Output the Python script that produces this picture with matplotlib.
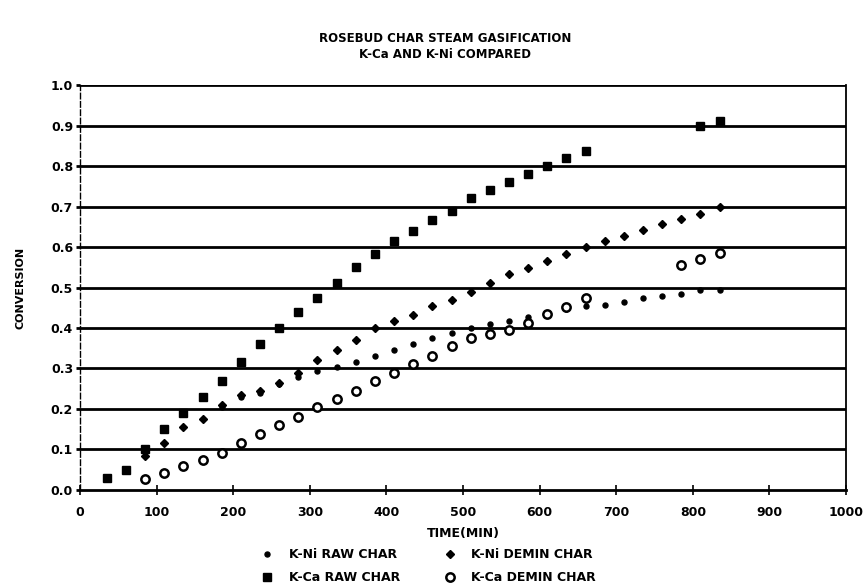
import matplotlib
matplotlib.use("Agg")
import matplotlib.pyplot as plt

plt.rcParams['font.family'] = ['DejaVu Sans']
plt.rcParams['font.weight'] = 'bold'

# K-Ni raw char (small dots)
t_kni_raw = [185, 210, 235, 260, 285, 310, 335, 360, 385, 410, 435, 460, 485,
             510, 535, 560, 585, 610, 635, 660, 685, 710, 735, 760, 785, 810, 835]
x_kni_raw = [0.205, 0.23, 0.24, 0.262, 0.28, 0.293, 0.303, 0.315, 0.33, 0.345,
             0.36, 0.376, 0.388, 0.40, 0.41, 0.418, 0.428, 0.435, 0.447, 0.455,
             0.458, 0.465, 0.473, 0.478, 0.485, 0.495, 0.495]

# K-Ni demineralized char (diamonds)
t_kni_demin = [85, 110, 135, 160, 185, 210, 235, 260, 285, 310, 335, 360, 385,
               410, 435, 460, 485, 510, 535, 560, 585, 610, 635, 660, 685, 710,
               735, 760, 785, 810, 835]
x_kni_demin = [0.085, 0.115, 0.155, 0.175, 0.21, 0.235, 0.245, 0.265, 0.29, 0.32,
               0.345, 0.37, 0.40, 0.418, 0.433, 0.455, 0.47, 0.49, 0.51, 0.533,
               0.548, 0.565, 0.583, 0.60, 0.614, 0.627, 0.642, 0.656, 0.67,
               0.682, 0.70]

# K-Ca raw char (squares)
t_kca_raw = [35, 60, 85, 110, 135, 160, 185, 210, 235, 260, 285, 310, 335, 360,
             385, 410, 435, 460, 485, 510, 535, 560, 585, 610, 635, 660, 810, 835]
x_kca_raw = [0.03, 0.05, 0.10, 0.15, 0.19, 0.23, 0.27, 0.315, 0.36, 0.40, 0.44,
             0.475, 0.512, 0.55, 0.583, 0.614, 0.64, 0.667, 0.69, 0.72, 0.74,
             0.76, 0.78, 0.80, 0.82, 0.837, 0.90, 0.912]

# K-Ca demineralized char (open circles)
t_kca_demin = [85, 110, 135, 160, 185, 210, 235, 260, 285, 310, 335, 360, 385,
               410, 435, 460, 485, 510, 535, 560, 585, 610, 635, 660, 785, 810, 835]
x_kca_demin = [0.026, 0.042, 0.06, 0.074, 0.092, 0.115, 0.138, 0.16, 0.18, 0.205,
               0.225, 0.245, 0.268, 0.29, 0.31, 0.33, 0.355, 0.375, 0.385, 0.395,
               0.413, 0.435, 0.453, 0.473, 0.555, 0.57, 0.585]

x_ticks = [0, 100, 200, 300, 400, 500, 600, 700, 800, 900, 1000]
y_ticks = [0.0, 0.1, 0.2, 0.3, 0.4, 0.5, 0.6, 0.7, 0.8, 0.9, 1.0]
y_labels = ['0.0', '0.1', '0.2', '0.3', '0.4', '0.5', '0.6', '0.7', '0.8', '0.9', '1.0']

fig = plt.figure(figsize=(8.68, 5.88), dpi=100)
ax = fig.add_axes([0.0922, 0.1667, 0.8825, 0.6887])

# heavy rule at every tenth
for y in y_ticks[1:]:
    ax.axhline(y, color='black', lw=2.0, zorder=1)

p1, = ax.plot(t_kni_raw, x_kni_raw, 'o', color='black', ms=3.6, ls='none',
              label='K-Ni RAW CHAR', zorder=3)
p3, = ax.plot(t_kni_demin, x_kni_demin, 'D', color='black', ms=4.2, ls='none',
              label='K-Ni DEMIN CHAR', zorder=3)
p2, = ax.plot(t_kca_raw, x_kca_raw, 's', color='black', ms=5.6, ls='none',
              label='K-Ca RAW CHAR', zorder=3)
p4, = ax.plot(t_kca_demin, x_kca_demin, 'o', mfc='white', mec='black', mew=1.8,
              ms=6.0, ls='none', label='K-Ca DEMIN CHAR', zorder=3)

ax.set_xlim(0, 1000)
ax.set_ylim(0, 1.0)
ax.set_xticks(x_ticks)
ax.set_yticks(y_ticks)
ax.set_yticklabels(y_labels)
ax.tick_params(axis='x', direction='inout', length=7, width=1.2, pad=8, labelsize=9)
ax.tick_params(axis='y', direction='out', length=3, width=2.0, pad=2, labelsize=9)

ax.spines['top'].set_visible(False)
ax.spines['left'].set_linestyle((0, (4, 2)))
ax.spines['left'].set_linewidth(1.0)
ax.spines['right'].set_linewidth(1.3)
ax.spines['bottom'].set_linewidth(2.0)

ax.set_xlabel('TIME(MIN)', fontsize=9, fontweight='bold', labelpad=6)
ax.set_ylabel('CONVERSION', fontsize=8, fontweight='bold', labelpad=18)

fig.text(0.513, 0.935, 'ROSEBUD CHAR STEAM GASIFICATION', ha='center', va='center',
         fontsize=8.5, fontweight='bold')
fig.text(0.513, 0.907, 'K-Ca AND K-Ni COMPARED', ha='center', va='center',
         fontsize=8.5, fontweight='bold')

fig.legend(handles=[p1, p2, p3, p4], ncol=2, loc='upper left',
           bbox_to_anchor=(0.3007, 0.0680), frameon=False, fontsize=9,
           borderpad=0, borderaxespad=0, handletextpad=1.2, columnspacing=3.5,
           labelspacing=0.8, handlelength=1.0)

fig.savefig('out.png', dpi=100)
